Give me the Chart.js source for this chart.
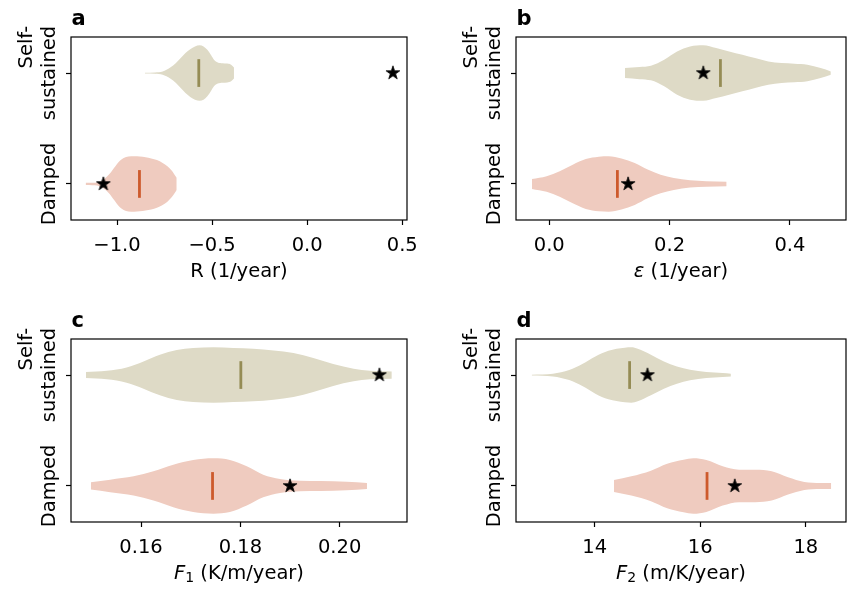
<!DOCTYPE html>
<html>
<head>
<meta charset="utf-8">
<title>Violin panels</title>
<script src="https://cdn.jsdelivr.net/npm/chart.js@4.4.1/dist/chart.umd.min.js"></script>
<style>
  html, body { margin: 0; padding: 0; background: #fff; }
  #wrap { position: relative; width: 854px; height: 589px; }
  #wrap canvas { position: absolute; left: 0; top: 0; }
</style>
</head>
<body>
<div id="wrap">
  <canvas id="panelA" width="854" height="589"></canvas>
  <canvas id="panelB" width="854" height="589"></canvas>
  <canvas id="panelC" width="854" height="589"></canvas>
  <canvas id="panelD" width="854" height="589"></canvas>
</div>
<script>
// Categories: position 1 = Damped, position 2 = Self-sustained
const categoryLines = [['Damped'], ['Self-', 'sustained']];
const categoryPos = [1, 2];

// Panel a: R (1/year)
const aTicks = [-1.0, -0.5, 0.0, 0.5];
const aTickLabels = ['\u22121.0', '\u22120.5', '0.0', '0.5'];
const aDampedX = [-1.165, -1.13, -1.105, -1.08, -1.06, -1.045, -1.03, -1.015, -1.0, -0.985, -0.965, -0.94, -0.91, -0.88, -0.85, -0.82, -0.79, -0.76, -0.735, -0.715, -0.70, -0.686];
const aDampedW = [0.01, 0.011, 0.013, 0.03, 0.055, 0.08, 0.11, 0.145, 0.18, 0.21, 0.235, 0.248, 0.25, 0.247, 0.24, 0.23, 0.215, 0.19, 0.16, 0.125, 0.09, 0.055];
const aSelfX = [-0.853, -0.80, -0.76, -0.74, -0.72, -0.69, -0.665, -0.64, -0.615, -0.59, -0.565, -0.545, -0.525, -0.505, -0.49, -0.47, -0.445, -0.42, -0.40, -0.385];
const aSelfW = [0.003, 0.006, 0.015, 0.03, 0.05, 0.09, 0.135, 0.18, 0.215, 0.24, 0.25, 0.24, 0.21, 0.16, 0.12, 0.095, 0.088, 0.085, 0.075, 0.05];
const aMedians = [-0.882, -0.57];
const aStars = [-1.072, 0.451];

// Panel b: epsilon (1/year)
const bTicks = [0.0, 0.2, 0.4];
const bTickLabels = ['0.0', '0.2', '0.4'];
const bDampedX = [-0.0288, -0.0044, 0.0173, 0.039, 0.0607, 0.0823, 0.0986, 0.120, 0.142, 0.1636, 0.185, 0.207, 0.234, 0.261, 0.2948];
const bDampedW = [0.045, 0.07, 0.115, 0.174, 0.225, 0.246, 0.25, 0.23, 0.19, 0.13, 0.084, 0.054, 0.033, 0.025, 0.02];
const bSelfX = [0.1257, 0.15, 0.169, 0.191, 0.2124, 0.234, 0.2558, 0.2774, 0.299, 0.321, 0.342, 0.364, 0.386, 0.4075, 0.429, 0.451, 0.468];
const bSelfW = [0.045, 0.055, 0.066, 0.12, 0.195, 0.24, 0.25, 0.225, 0.195, 0.165, 0.135, 0.105, 0.09, 0.084, 0.075, 0.045, 0.015];
const bMedians = [0.1132, 0.2845];
const bStars = [0.131, 0.256];

// Panel c: F1 (K/m/year)
const cTicks = [0.16, 0.18, 0.20];
const cTickLabels = ['0.16', '0.18', '0.20'];
const cDampedX = [0.1499, 0.1538, 0.1585, 0.1625, 0.1665, 0.1705, 0.1746, 0.1779, 0.1813, 0.1846, 0.188, 0.192, 0.1961, 0.2014, 0.2055];
const cDampedW = [0.033, 0.057, 0.087, 0.132, 0.192, 0.235, 0.25, 0.235, 0.177, 0.102, 0.063, 0.048, 0.045, 0.039, 0.027];
const cSelfX = [0.1489, 0.1531, 0.1571, 0.1605, 0.1638, 0.1672, 0.1705, 0.1746, 0.1786, 0.1826, 0.1867, 0.1907, 0.1947, 0.1987, 0.2028, 0.2061, 0.2105];
const cSelfW = [0.027, 0.039, 0.069, 0.123, 0.183, 0.225, 0.243, 0.25, 0.243, 0.237, 0.222, 0.198, 0.153, 0.099, 0.057, 0.039, 0.033];
const cMedians = [0.1744, 0.1801];
const cStars = [0.19, 0.208];

// Panel d: F2 (m/K/year)
const dTicks = [14, 16, 18];
const dTickLabels = ['14', '16', '18'];
const dDampedX = [14.365, 14.694, 15.065, 15.373, 15.683, 15.868, 16.115, 16.425, 16.735, 17.043, 17.353, 17.662, 17.97, 18.28, 18.48];
const dDampedW = [0.054, 0.087, 0.138, 0.201, 0.237, 0.25, 0.234, 0.177, 0.147, 0.147, 0.132, 0.078, 0.036, 0.027, 0.027];
const dSelfX = [12.807, 13.21, 13.518, 13.766, 14.013, 14.26, 14.57, 14.694, 14.816, 15.065, 15.312, 15.558, 15.807, 16.115, 16.425, 16.58];
const dSelfW = [0.003, 0.012, 0.045, 0.099, 0.168, 0.219, 0.246, 0.25, 0.237, 0.183, 0.123, 0.078, 0.048, 0.027, 0.018, 0.012];
const dMedians = [16.128, 14.662];
const dStars = [16.653, 15.0];

// Colours: index 0 = Damped, 1 = Self-sustained
const fillColors = ['#efcbbf', '#dedac6'];
const medianColors = ['#cd5a2c', '#958c55'];

const FONT = "'DejaVu Sans'";
const FONT_SIZE = 19.5;
const LINE_GAP = 23;

Chart.defaults.font.family = FONT;
Chart.defaults.font.size = FONT_SIZE;
Chart.defaults.color = '#000';

// Filled star used as point style
function makeStar(r) {
    const size = Math.ceil(r * 2) + 3;
    const c = document.createElement('canvas');
    c.width = size;
    c.height = size;
    const g = c.getContext('2d');
    g.translate(size / 2, size / 2);
    g.beginPath();
    for (let k = 0; k < 10; k++) {
        const rad = k % 2 === 0 ? r : r * 0.381966;
        const ang = -Math.PI / 2 + k * Math.PI / 5;
        g.lineTo(rad * Math.cos(ang), rad * Math.sin(ang));
    }
    g.closePath();
    g.fillStyle = '#000';
    g.fill();
    g.lineWidth = 0.8;
    g.strokeStyle = '#000';
    g.stroke();
    return c;
}
const starImage = makeStar(7.2);

// Frame, panel letter, category labels and x title
const panelDecor = {
    id: 'panelDecor',
    afterDraw(chart, args, opts) {
        const ctx = chart.ctx;
        const area = chart.chartArea;
        const yScale = chart.scales.y;
        ctx.save();
        ctx.strokeStyle = '#000';
        ctx.lineWidth = 1.2;
        ctx.strokeRect(area.left, area.top, area.right - area.left, area.bottom - area.top);

        ctx.fillStyle = '#000';
        ctx.font = 'bold 21px ' + FONT;
        ctx.textAlign = 'left';
        ctx.textBaseline = 'alphabetic';
        ctx.fillText(opts.letter, area.left + 0.5, area.top - 12);

        // rotated category labels, lines right-aligned like matplotlib
        ctx.font = FONT_SIZE + 'px ' + FONT;
        const baseX = area.left - 16;
        categoryPos.forEach((pos, i) => {
            const lines = categoryLines[i];
            const py = yScale.getPixelForValue(pos);
            const blockW = Math.max(...lines.map(l => ctx.measureText(l).width));
            ctx.save();
            ctx.translate(baseX, py);
            ctx.rotate(-Math.PI / 2);
            ctx.textAlign = 'right';
            lines.forEach((l, j) => {
                ctx.fillText(l, blockW / 2, -(lines.length - 1 - j) * LINE_GAP);
            });
            ctx.restore();
        });

        // x title built from runs (italic / subscript parts)
        const runs = opts.xTitle;
        const fontFor = r => (r.italic ? 'italic ' : '') + (r.sub ? Math.round(FONT_SIZE * 0.7) : FONT_SIZE) + 'px ' + FONT;
        let total = 0;
        runs.forEach(r => { ctx.font = fontFor(r); total += ctx.measureText(r.t).width; });
        let x = (area.left + area.right) / 2 - total / 2;
        const y = area.bottom + 56.5;
        ctx.textAlign = 'left';
        runs.forEach(r => {
            ctx.font = fontFor(r);
            ctx.fillText(r.t, x, r.sub ? y + 3.5 : y);
            x += ctx.measureText(r.t).width;
        });
        ctx.restore();
    }
};

// Build one violin panel
function initPanel(canvasId, box, xRange, ticks, tickLabels, violins, medians, stars, letter, xTitle) {
    const datasets = [];
    datasets.push({
        data: stars.map((v, i) => ({ x: v, y: categoryPos[i] })),
        showLine: false,
        pointStyle: starImage,
        pointRadius: 7,
        order: 0
    });
    medians.forEach((m, i) => {
        datasets.push({
            data: [{ x: m, y: categoryPos[i] - 0.125 }, { x: m, y: categoryPos[i] + 0.125 }],
            borderColor: medianColors[i],
            borderWidth: 2.8,
            pointRadius: 0,
            fill: false,
            order: 1
        });
    });
    violins.forEach((v, i) => {
        const pos = categoryPos[i];
        const upper = datasets.length;
        datasets.push({
            data: v.x.map((x, k) => ({ x: x, y: pos + v.w[k] })),
            borderWidth: 0,
            borderColor: 'rgba(0,0,0,0)',
            pointRadius: 0,
            fill: false,
            cubicInterpolationMode: 'monotone',
            order: 2
        });
        datasets.push({
            data: v.x.map((x, k) => ({ x: x, y: pos - v.w[k] })),
            borderWidth: 0,
            borderColor: 'rgba(0,0,0,0)',
            backgroundColor: fillColors[i],
            pointRadius: 0,
            fill: upper,
            cubicInterpolationMode: 'monotone',
            order: 2
        });
    });

    const tickGrid = {
        drawOnChartArea: false,
        drawTicks: true,
        tickLength: 5,
        tickWidth: 1.2,
        tickColor: '#000'
    };

    return new Chart(document.getElementById(canvasId), {
        type: 'line',
        data: { datasets: datasets },
        options: {
            responsive: false,
            animation: false,
            events: [],
            devicePixelRatio: 1,
            layout: {
                padding: { left: box[0], right: 854 - box[1], top: box[2], bottom: 0 }
            },
            plugins: {
                legend: { display: false },
                tooltip: { enabled: false },
                panelDecor: { letter: letter, xTitle: xTitle }
            },
            scales: {
                x: {
                    type: 'linear',
                    min: xRange[0],
                    max: xRange[1],
                    afterBuildTicks: s => { s.ticks = ticks.map(t => ({ value: t })); },
                    afterFit: s => { s.height = 589 - box[3]; },
                    ticks: {
                        autoSkip: false,
                        maxRotation: 0,
                        padding: 9,
                        callback: (val, idx) => tickLabels[idx]
                    },
                    grid: tickGrid,
                    border: { display: false }
                },
                y: {
                    type: 'linear',
                    min: 0.675,
                    max: 2.325,
                    afterBuildTicks: s => { s.ticks = categoryPos.map(t => ({ value: t })); },
                    afterFit: s => { s.width = 0; },
                    ticks: { display: false },
                    grid: tickGrid,
                    border: { display: false }
                }
            }
        },
        plugins: [panelDecor]
    });
}

initPanel('panelA', [71, 407, 37, 220], [-1.242, 0.525], aTicks, aTickLabels,
    [{ x: aDampedX, w: aDampedW }, { x: aSelfX, w: aSelfW }], aMedians, aStars, 'a',
    [{ t: 'R (1/year)' }]);
initPanel('panelB', [516, 853, 37, 220], [-0.0553, 0.4932], bTicks, bTickLabels,
    [{ x: bDampedX, w: bDampedW }, { x: bSelfX, w: bSelfW }], bMedians, bStars, 'b',
    [{ t: '\u03b5', italic: true }, { t: ' (1/year)' }]);
initPanel('panelC', [71, 407, 339, 522], [0.1459, 0.21356], cTicks, cTickLabels,
    [{ x: cDampedX, w: cDampedW }, { x: cSelfX, w: cSelfW }], cMedians, cStars, 'c',
    [{ t: 'F', italic: true }, { t: '1', sub: true }, { t: ' (K/m/year)' }]);
initPanel('panelD', [516, 853, 339, 522], [12.51, 18.76], dTicks, dTickLabels,
    [{ x: dDampedX, w: dDampedW }, { x: dSelfX, w: dSelfW }], dMedians, dStars, 'd',
    [{ t: 'F', italic: true }, { t: '2', sub: true }, { t: ' (m/K/year)' }]);
</script>
</body>
</html>
